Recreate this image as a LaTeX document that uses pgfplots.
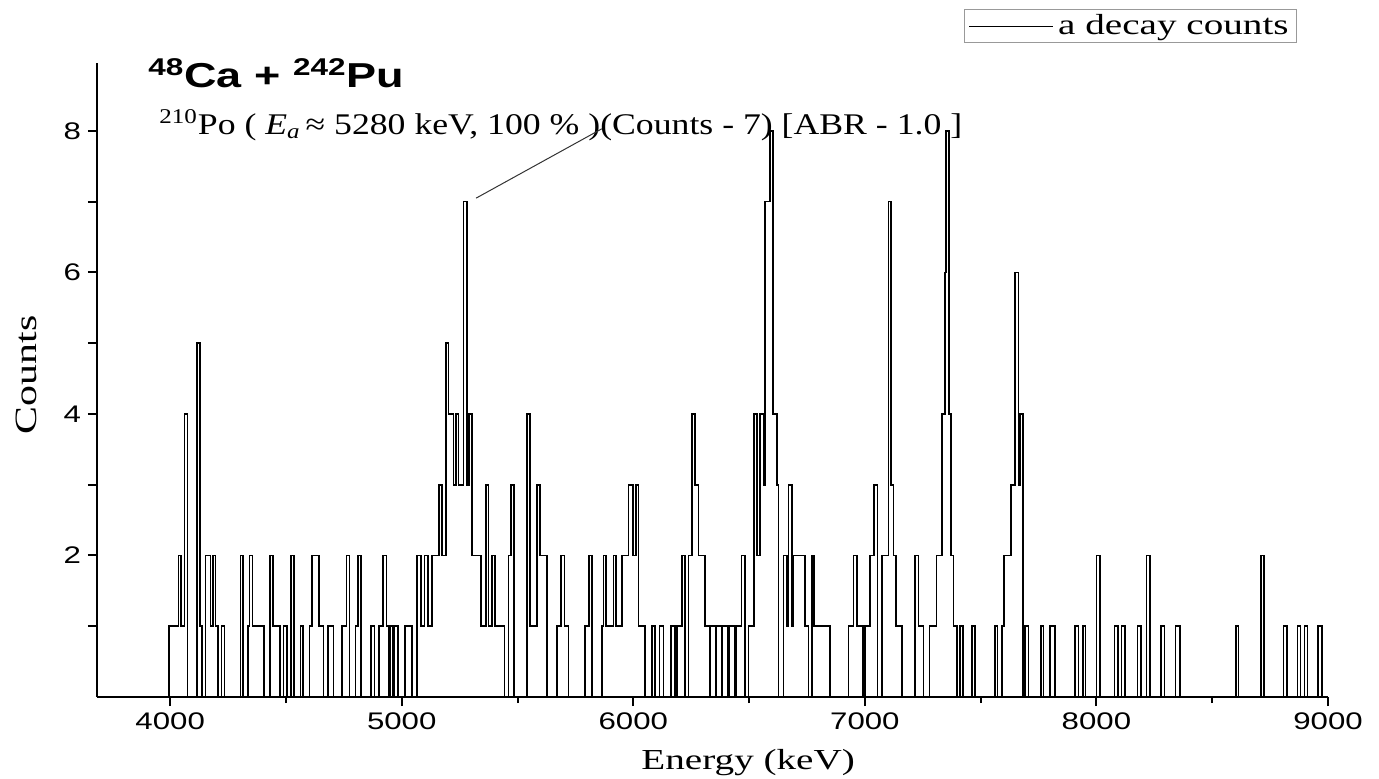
\documentclass[border=0pt]{standalone}
\usepackage{fontspec}
\setmainfont{Liberation Serif}[FakeStretch=1.35]
\newfontfamily\annotf{Liberation Serif}[FakeStretch=1.19]
\newfontfamily\arialf{Liberation Sans}[FakeStretch=1.3]
\usepackage{pgfplots}
\pgfplotsset{compat=1.18}
\pgfplotstableread{
x y
3990 0
3996 1
4036 2
4047 1
4062 4
4075 0
4115 5
4128 1
4138 0
4153 2
4175 1
4185 2
4196 1
4207 0
4222 1
4235 0
4304 2
4315 0
4335 1
4343 2
4356 1
4404 0
4430 2
4443 1
4473 0
4490 1
4505 0
4522 2
4535 0
4562 1
4573 0
4601 1
4612 2
4642 1
4662 0
4681 1
4705 0
4741 1
4762 2
4774 0
4800 1
4811 2
4824 0
4867 1
4882 0
4902 1
4920 2
4935 1
4945 0
4950 1
4960 0
4966 1
4984 0
5013 1
5044 0
5065 2
5082 1
5098 2
5113 1
5130 2
5162 3
5173 2
5190 5
5202 4
5223 3
5235 4
5245 3
5267 7
5282 3
5291 4
5303 2
5343 1
5363 3
5375 1
5389 2
5403 1
5444 0
5461 2
5472 3
5484 0
5540 4
5554 1
5583 3
5598 2
5626 0
5670 1
5688 2
5703 1
5720 0
5792 1
5809 2
5821 0
5864 1
5871 2
5883 1
5914 2
5924 1
5950 2
5979 3
5998 2
6011 3
6022 1
6051 0
6080 1
6094 0
6113 1
6130 0
6162 1
6180 0
6188 1
6209 2
6224 0
6238 2
6253 4
6267 3
6281 2
6310 1
6330 0
6334 1
6355 0
6360 1
6380 0
6385 1
6410 0
6415 1
6440 0
6445 1
6468 2
6483 0
6497 1
6522 4
6533 2
6548 4
6562 3
6569 7
6590 8
6604 4
6620 3
6627 0
6648 2
6663 1
6670 3
6684 1
6691 2
6742 1
6756 0
6771 2
6781 1
6850 0
6929 1
6951 2
6965 1
6993 0
7001 1
7023 2
7040 3
7054 0
7073 2
7102 7
7113 3
7123 2
7135 1
7159 0
7217 2
7231 1
7253 0
7279 1
7310 2
7332 4
7346 6
7351 8
7362 4
7371 2
7382 1
7397 0
7411 1
7423 0
7462 1
7476 0
7562 1
7572 0
7591 1
7601 2
7630 3
7649 6
7663 3
7670 4
7682 0
7692 1
7706 0
7760 1
7771 0
7800 1
7821 0
7908 1
7922 0
7941 1
7952 0
8001 2
8016 0
8078 1
8092 0
8109 1
8124 0
8178 1
8193 0
8217 2
8232 0
8279 1
8294 0
8341 1
8361 0
8602 1
8613 0
8710 2
8724 0
8807 1
8822 0
8868 1
8882 0
8898 1
8912 0
8958 1
8973 0
}\spectrum
\begin{document}
\begin{tikzpicture}
\begin{axis}[name=ax,
  scale only axis, width=615.5pt, height=317pt,
  xmin=3684, xmax=9000, ymin=0, ymax=8.96,
  axis x line=bottom, axis y line=left,
  axis line style={-, line width=1pt},
  xtick={4000,5000,...,9000}, minor x tick num=1,
  ytick={1,2,3,4,5,6,7,8}, yticklabels={,2,,4,,6,,8},
  tick align=outside, major tick length=4.5pt, minor tick length=3pt,
  tick style={line width=1pt, black},
  ticklabel style={font=\arialf\fontsize{12}{14}\selectfont},
  /pgf/number format/assume math mode=true,
  /pgf/number format/1000 sep={},
  xlabel={Energy (keV)}, ylabel={Counts},
  xlabel style={font=\fontsize{14.5}{17}\selectfont, at={(axis description cs:0.529,-0.103)}, anchor=center},
  ylabel style={font=\fontsize{15.5}{18}\selectfont, at={(axis description cs:-0.0577,0.508)}, anchor=center},
  legend style={at={(axis description cs:0.975,1.085)}, anchor=north east, draw=gray!80, line width=0.6pt,
    font=\fontsize{14.5}{17}\selectfont, inner xsep=2pt, inner ysep=0.5pt},
  legend cell align=left,
  clip=false,
]
\addplot[const plot, black, line width=0.8pt,
  legend image code/.code={\draw[black, line width=0.75pt] (0pt,0pt) -- (42pt,0pt);}]
  table[x=x, y=y] {\spectrum};
\addlegendentry{a decay counts}
\node[anchor=base west, font=\arialf\bfseries\fontsize{17.3}{20}\selectfont, inner sep=0pt]
  at (axis description cs:0.0414,0.9606) {\textsuperscript{48}Ca + \textsuperscript{242}Pu};
\node[anchor=base west, font=\annotf\fontsize{15}{18}\selectfont, inner sep=0pt]
  at (axis description cs:0.0504,0.888) {\textsuperscript{210}Po ( \textit{E}\textsubscript{\textit{a}}\,≈ 5280 keV, 100 \% )(Counts - 7) [ABR - 1.0 ]};
\draw[line width=0.5pt, black!80] (axis cs:5321,7.05) -- (axis cs:5864,8.03);
\end{axis}
\pgfresetboundingbox
\path (ax.south west) ++(-48.5pt,-40.5pt) rectangle ++(689.5pt,389pt);
\end{tikzpicture}
\end{document}
